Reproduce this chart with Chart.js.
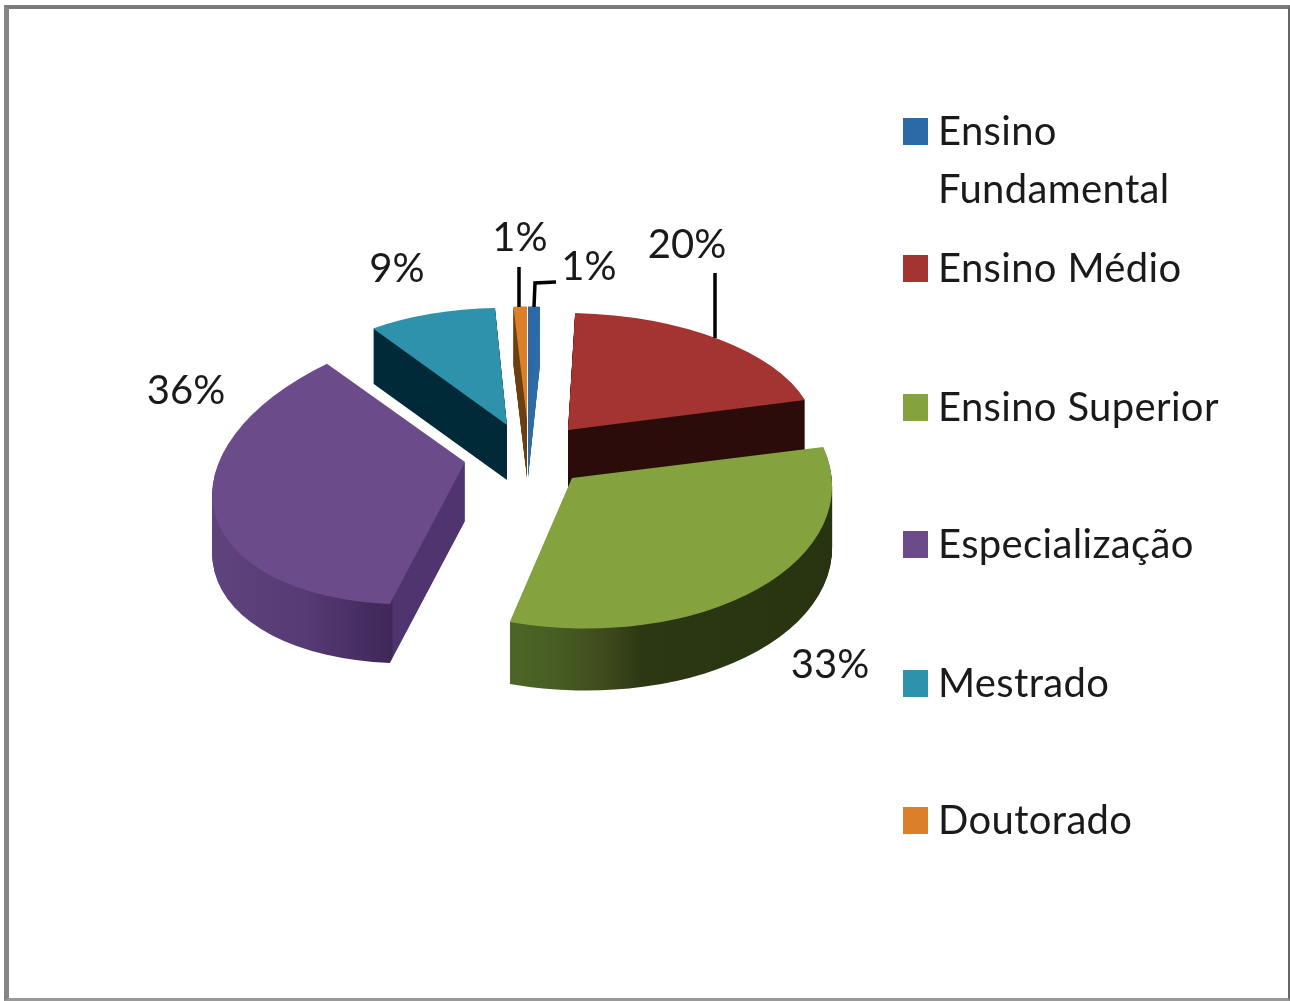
<!DOCTYPE html>
<html>
<head>
<meta charset="utf-8">
<title>Escolaridade</title>
<script src="https://cdn.jsdelivr.net/npm/chart.js@4"></script>
<style>
  html, body { margin: 0; padding: 0; background: #fff; overflow: hidden; }
  #page { position: relative; width: 1290px; height: 1001px; filter: blur(0.5px); }
  #frame { position: absolute; left: 4px; top: 5px; width: 1286px; height: 996px; box-sizing: border-box;
           border-style: solid; border-color: #7a7a7a #666 #999 #858585; border-width: 4px 2px 3px 5px; }
  #pie { position: absolute; left: 0; top: 0; }
  .legend-item { position: absolute; left: 903px; font: 40px Lato, sans-serif; color: #1a1a1a; line-height: 58px; white-space: pre; }
  .legend-item i { position: absolute; left: 0; top: 16px; width: 25px; height: 27px; }
  .legend-item span { position: absolute; left: 35px; top: -1px; letter-spacing: 0.35px; }
</style>
</head>
<body>
<div id="page">
  <div id="frame"></div>
  <canvas id="pie" width="1290" height="1001"></canvas>
  <div id="legend"></div>
</div>
<script>
// Values
const categories = ['Ensino\nFundamental', 'Ensino Médio', 'Ensino Superior', 'Especialização', 'Mestrado', 'Doutorado'];
const values = [1, 20, 33, 36, 9, 1];
const colors = ['#2b6aa6', '#a43431', '#84a33f', '#6b4b8a', '#2e92ad', '#db8029'];

// Look of the 3D pie: how each slice is pushed out and tilted
const center = { x: 527, y: 450 };
const explode = [[1, -30], [41, -20], [45, 28], [-62, 12], [-20, -25], [0, -30]];
const tilt = [
  [0.75, 0, 0, 0.445],
  [0.968, -0.003, 0.033, 0.46],
  [1.02, 0.026, 0.01, 0.59],
  [0.99, -0.1, -0.05, 0.549],
  [0.907, 0.012, -0.01, 0.459],
  [0.85, 0, 0, 0.445]
];
const depth = [58, 57, 62, 59, 55, 58];
const drawOrder = [4, 5, 0, 1, 3, 2];
const wallStops = [
  [[0, '#2e6ca5'], [1, '#2e6ca5']],
  [[0, '#2c0c0a'], [1, '#2c0c0a']],
  [[0, '#4e6727'], [0.37, '#4e6727'], [0.47, '#475c23'], [0.56, '#3e4a1c'], [0.63, '#2b3813'], [1, '#283411']],
  [[0, '#5f437c'], [0.2, '#573b75'], [0.378, '#3f2759'], [0.382, '#4f3470'], [1, '#4f3470']],
  [[0, '#012a38'], [1, '#012a38']],
  [[0, '#6b3f12'], [1, '#6b3f12']]
];

const labels = [
  { text: '1%', x: 589, y: 267 },
  { text: '20%', x: 687, y: 245 },
  { text: '33%', x: 830, y: 665 },
  { text: '36%', x: 186, y: 391 },
  { text: '9%', x: 397, y: 269 },
  { text: '1%', x: 520, y: 238 }
];
const leaders = [
  [[534, 307], [535, 283], [556, 282]],
  [[715, 338], [715, 273]],
  [],
  [],
  [],
  [[519, 307], [519, 267]]
];

const legendTops = [102, 239, 378, 515, 654, 791];

function placeSlice(ctx, arc, i, drop) {
  const m = tilt[i];
  ctx.translate(center.x + explode[i][0], center.y + explode[i][1] + drop);
  ctx.transform(m[0], m[1], m[2], m[3], 0, 0);
  ctx.translate(-arc.x, -arc.y);
}

// Draws the slices back to front, each with a stacked side wall under it
const pie3d = {
  id: 'pie3d',
  beforeDatasetDraw(chart) {
    const ctx = chart.ctx;
    const arcs = chart.getDatasetMeta(0).data;
    drawOrder.forEach(i => {
      const arc = arcs[i];
      const top = arc.options;
      const R = arc.outerRadius;
      const wall = ctx.createLinearGradient(arc.x - R, 0, arc.x + R, 0);
      wallStops[i].forEach(s => wall.addColorStop(s[0], s[1]));
      arc.options = Object.assign({}, top, { backgroundColor: wall, borderWidth: 0 });
      for (let d = depth[i]; d > 0; d--) {
        ctx.save();
        placeSlice(ctx, arc, i, d);
        arc.draw(ctx);
        ctx.restore();
      }
      arc.options = top;
      ctx.save();
      placeSlice(ctx, arc, i, 0);
      arc.draw(ctx);
      ctx.restore();
    });
    return false;
  },
  afterDatasetsDraw(chart) {
    const ctx = chart.ctx;
    ctx.save();
    ctx.strokeStyle = '#000';
    ctx.lineWidth = 3.5;
    leaders.forEach(pts => {
      if (!pts.length) return;
      ctx.beginPath();
      pts.forEach((p, n) => n ? ctx.lineTo(p[0], p[1]) : ctx.moveTo(p[0], p[1]));
      ctx.stroke();
    });
    ctx.fillStyle = '#1a1a1a';
    ctx.font = '40px Lato, sans-serif';
    ctx.textAlign = 'center';
    ctx.textBaseline = 'middle';
    labels.forEach(l => ctx.fillText(l.text, l.x, l.y));
    ctx.restore();
  }
};

new Chart(document.getElementById('pie'), {
  type: 'pie',
  data: {
    labels: categories,
    datasets: [{ data: values, backgroundColor: colors, borderWidth: 0 }]
  },
  options: {
    responsive: false,
    animation: false,
    radius: 255,
    plugins: { legend: { display: false }, tooltip: { enabled: false } }
  },
  plugins: [pie3d]
});

// Legend on the right
const legendBox = document.getElementById('legend');
categories.forEach((name, i) => {
  const item = document.createElement('div');
  item.className = 'legend-item';
  item.style.top = legendTops[i] + 'px';
  const box = document.createElement('i');
  box.style.background = colors[i];
  const text = document.createElement('span');
  text.textContent = name;
  item.appendChild(box);
  item.appendChild(text);
  legendBox.appendChild(item);
});
</script>
</body>
</html>
